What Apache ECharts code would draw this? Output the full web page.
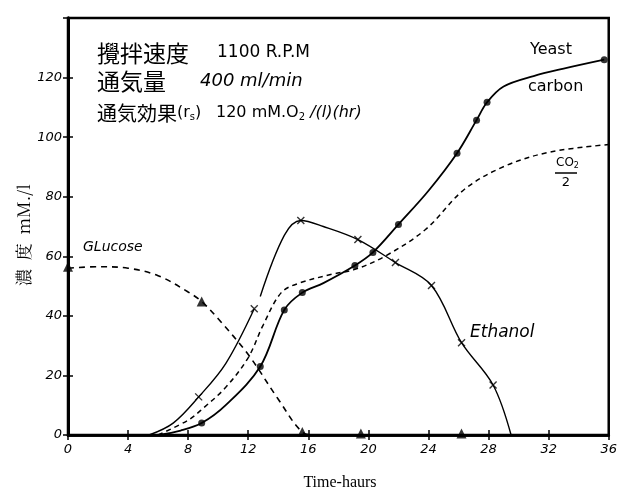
<!DOCTYPE html>
<html>
<head>
<meta charset="utf-8">
<script src="https://cdn.jsdelivr.net/npm/echarts@6/dist/echarts.min.js"></script>
<style>
  html, body { margin: 0; padding: 0; background: #fff; }
  #chart { width: 620px; height: 500px; }
</style>
</head>
<body>
<div id="chart"></div>
<script>
// 時間 (hr) / 濃度 (mM/l)
const xTicks = [0, 4, 8, 12, 16, 20, 24, 28, 32, 36];
const yTicks = [0, 20, 40, 60, 80, 100, 120];

const glucoseCurve = [[0, 56], [2, 56.5], [4, 56], [6, 53.5], [8, 48], [8.9, 44.8], [10, 39], [12, 27], [14, 12], [15.6, 1], [16.5, 0], [19.5, 0], [26.2, 0]];
const glucoseMarks = [[0, 56.5], [8.9, 44.8], [15.6, 1], [19.5, 0.5], [26.2, 0.5]];

const ethanolCurve = [[5.4, 0], [7, 4], [8.7, 12.8], [10.5, 24], [12.4, 42.4], [12.6, '-'], [12.8, 46.5], [14.4, 67], [15.5, 72], [17, 70], [19.3, 65.6], [21.8, 57.9], [24.2, 50.2], [26.2, 31], [28.3, 16.8], [29.5, 0]];
const ethanolMarks = [[8.7, 12.8], [12.4, 42.4], [15.5, 72], [19.3, 65.6], [21.8, 57.9], [24.2, 50.2], [26.2, 31], [28.3, 16.8]];

const yeastCurve = [[6, 0], [7.5, 1.5], [8.9, 4], [10.5, 10], [12.8, 23], [14.4, 42], [15.6, 47.8], [17, 51], [19.1, 56.9], [20.3, 61.3], [22, 70.7], [24, 82], [25.9, 94.6], [27.2, 105.7], [27.9, 111.7], [29, 117], [31, 120.5], [33, 123], [35.7, 126]];
const yeastMarks = [[8.9, 4], [12.8, 23], [14.4, 42], [15.6, 47.8], [19.1, 56.9], [20.3, 61.3], [22, 70.7], [25.9, 94.6], [27.2, 105.7], [27.9, 111.7], [35.7, 126]];

const co2Curve = [[6, 0], [8, 5], [9, 9], [10.5, 16], [12, 26], [13, 37], [14.2, 47.8], [15.4, 51], [17.6, 54], [19.1, 55.6], [21.1, 60], [23.8, 69], [26.4, 82.5], [29.1, 90.3], [32.1, 95], [36, 97.5]];

const chart = echarts.init(document.getElementById('chart'));

const numFont = { fontFamily: 'DejaVu Sans', fontStyle: 'italic', fontSize: 13, color: '#000' };
const handFont = 'DejaVu Sans';
const jpFont = 'Noto Sans CJK JP';

const crossSymbol = 'path://M0,0L10,10M10,0L0,10';

const option = {
  animation: false,
  backgroundColor: '#fff',
  grid: { left: 68, right: 8, top: 18, bottom: 65, show: true, borderColor: '#000', borderWidth: 2.5, backgroundColor: 'transparent' },
  xAxis: [
    {
      type: 'value', min: 0, max: 36, interval: 4,
      axisLine: { lineStyle: { color: '#000', width: 2.5 } },
      axisTick: { inside: true, length: 5, lineStyle: { color: '#000', width: 1.5 } },
      axisLabel: Object.assign({ margin: 8, fontSize: 14 }, numFont),
      splitLine: { show: false }
    },
    {
      type: 'value', min: 0, max: 36, interval: 4, position: 'top',
      axisLine: { show: true, lineStyle: { color: '#000', width: 2.5 } },
      axisTick: { show: true, inside: true, length: 5, lineStyle: { color: '#000', width: 1.5 } },
      axisLabel: { show: false },
      splitLine: { show: false }
    }
  ],
  yAxis: [
    {
      type: 'value', min: 0, max: 140, interval: 20,
      axisLine: { show: true, lineStyle: { color: '#000', width: 3 } },
      axisTick: { show: true, inside: true, length: 5, lineStyle: { color: '#000', width: 1.5 } },
      axisLabel: Object.assign({
        margin: 6,
        formatter: v => (yTicks.indexOf(v) >= 0 ? String(v) : '')
      }, numFont),
      splitLine: { show: false }
    },
    {
      type: 'value', min: 0, max: 140, interval: 20, position: 'right',
      axisLine: { show: true, lineStyle: { color: '#000', width: 3 } },
      axisTick: { show: true, inside: true, length: 5, lineStyle: { color: '#000', width: 1.5 } },
      axisLabel: { show: false },
      splitLine: { show: false }
    }
  ],
  series: [
    {
      name: 'Glucose', type: 'line', data: glucoseCurve, smooth: 0.35, symbol: 'none',
      lineStyle: { color: '#000', width: 1.6, type: [6, 5] }
    },
    {
      name: 'Glucose pts', type: 'scatter', data: glucoseMarks, symbol: 'triangle', symbolSize: 10,
      itemStyle: { color: '#000' }
    },
    {
      name: 'Ethanol', type: 'line', data: ethanolCurve, smooth: 0.35, symbol: 'none',
      lineStyle: { color: '#000', width: 1.4 }
    },
    {
      name: 'Ethanol pts', type: 'scatter', data: ethanolMarks, symbol: crossSymbol, symbolSize: 7,
      itemStyle: { color: 'none', borderColor: '#000', borderWidth: 1.4 }
    },
    {
      name: 'Yeast carbon', type: 'line', data: yeastCurve, smooth: 0.35, symbol: 'none',
      lineStyle: { color: '#000', width: 1.8 }
    },
    {
      name: 'Yeast pts', type: 'scatter', data: yeastMarks, symbol: 'circle', symbolSize: 7,
      itemStyle: { color: '#000' }
    },
    {
      name: 'CO2/2', type: 'line', data: co2Curve, smooth: 0.35, symbol: 'none',
      lineStyle: { color: '#000', width: 1.5, type: [5, 4] }
    },
    // empty series so the top / right frame axes get drawn
    { name: 'frame', type: 'line', xAxisIndex: 1, yAxisIndex: 1, data: [], symbol: 'none' }
  ],
  graphic: [
    // y-axis name, rotated
    {
      type: 'text', x: 24, y: 235, rotation: Math.PI / 2,
      style: { text: '濃  度  mM./l', font: '17px "Noto Serif CJK JP", "Liberation Serif", serif', fill: '#000', align: 'center', verticalAlign: 'middle' }
    },
    // x-axis name
    {
      type: 'text', x: 340, y: 483,
      style: { text: 'Time-haurs', font: '16px "Liberation Serif", serif', fill: '#000', align: 'center', verticalAlign: 'middle' }
    },
    // condition notes
    { type: 'text', x: 97, y: 53, style: { text: '攪拌速度', font: '23px "' + jpFont + '"', fill: '#000', verticalAlign: 'middle' } },
    { type: 'text', x: 217, y: 53, style: { text: '1100 R.P.M', font: '17px "' + handFont + '"', fill: '#000', verticalAlign: 'middle' } },
    { type: 'text', x: 97, y: 81, style: { text: '通気量', font: '23px "' + jpFont + '"', fill: '#000', verticalAlign: 'middle' } },
    { type: 'text', x: 200, y: 81, style: { text: '400 ml/min', font: 'italic 18px "' + handFont + '"', fill: '#000', verticalAlign: 'middle' } },
    {
      type: 'text', x: 97, y: 113,
      style: {
        text: '{a|通気効果}{b|(r}{s|s}{b|)}', fill: '#000', verticalAlign: 'middle',
        rich: {
          a: { fontFamily: jpFont, fontSize: 20 },
          b: { fontFamily: handFont, fontSize: 16 },
          s: { fontFamily: handFont, fontSize: 10, padding: [8, 0, 0, 0] }
        }
      }
    },
    {
      type: 'text', x: 216, y: 113,
      style: {
        text: '{b|120 mM.O}{s|2}{i| /(l)(hr)}', fill: '#000', verticalAlign: 'middle',
        rich: {
          b: { fontFamily: handFont, fontSize: 16 },
          s: { fontFamily: handFont, fontSize: 10, padding: [8, 0, 0, 0] },
          i: { fontFamily: handFont, fontStyle: 'italic', fontSize: 16 }
        }
      }
    },
    // curve labels
    { type: 'text', x: 83, y: 247, style: { text: 'GLucose', font: 'italic 14px "' + handFont + '"', fill: '#000', verticalAlign: 'middle' } },
    { type: 'text', x: 470, y: 333, style: { text: 'Ethanol', font: 'italic 17px "' + handFont + '"', fill: '#000', verticalAlign: 'middle' } },
    { type: 'text', x: 530, y: 50, style: { text: 'Yeast', font: '16px "' + handFont + '"', fill: '#000', verticalAlign: 'middle' } },
    { type: 'text', x: 528, y: 87, style: { text: 'carbon', font: '16px "' + handFont + '"', fill: '#000', verticalAlign: 'middle' } },
    {
      type: 'text', x: 556, y: 163,
      style: {
        text: '{b|CO}{s|2}', fill: '#000', verticalAlign: 'middle',
        rich: {
          b: { fontFamily: handFont, fontSize: 12 },
          s: { fontFamily: handFont, fontSize: 8, padding: [6, 0, 0, 0] }
        }
      }
    },
    { type: 'line', shape: { x1: 555, y1: 173, x2: 577, y2: 173 }, style: { stroke: '#000', lineWidth: 1.5 } },
    { type: 'text', x: 566, y: 183, style: { text: '2', font: '13px "' + handFont + '"', fill: '#000', align: 'center', verticalAlign: 'middle' } }
  ]
};

chart.setOption(option);
</script>
</body>
</html>
